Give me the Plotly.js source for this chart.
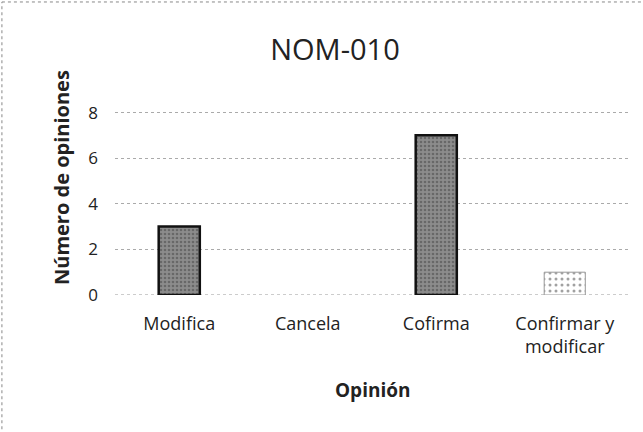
<!DOCTYPE html>
<html><head><meta charset="utf-8">
<script src="https://cdn.plot.ly/plotly-3.0.1.min.js"></script>
<style>html,body{margin:0;padding:0;background:#fff}#c{width:643px;height:432px}</style>
</head><body><div id="c"></div>
<script>
const categories = ["Modifica", "Cancela", "Cofirma", "Confirmar y<br>modificar"];
const values = [3, 0, 7, 1];
const yTicks = [0, 2, 4, 6, 8];
const chartTitle = "NOM-010";
const xTitle = "Opinión";
const yTitle = "Número de opiniones";

const trace = {
  type: "bar",
  x: categories,
  y: values,
  width: 0.32,
  marker: {
    color: ["#8c8c8c", "#8c8c8c", "#8c8c8c", "#ffffff"],
    line: {color: ["#111", "#111", "#111", "#999"], width: [2.5, 0, 2.5, 1]},
    pattern: {
      shape: [".", ".", ".", "."],
      fgcolor: ["#ffffff", "#ffffff", "#ffffff", "#777"],
      size: [4, 4, 4, 6],
      solidity: [0.35, 0.35, 0.35, 0.2],
      fillmode: "overlay"
    }
  },
  hoverinfo: "skip"
};

const layout = {
  width: 643, height: 432,
  margin: {l: 115, r: 14, t: 108, b: 137},
  paper_bgcolor: "#fff", plot_bgcolor: "#fff",
  font: {family: "Open Sans, Liberation Sans, sans-serif", color: "#222"},
  title: {text: chartTitle, xref: "container", yref: "container",
          x: 0.521, xanchor: "center", y: 0.884, yanchor: "middle",
          font: {size: 29, color: "#222", family: "Open Sans, sans-serif"}},
  xaxis: {
    type: "category",
    showgrid: false, showline: false, zeroline: false, ticks: "",
    tickfont: {size: 18, color: "#222"},
    ticklabelstandoff: 16
  },
  yaxis: {
    range: [0, 8.2],
    tickvals: yTicks,
    ticktext: yTicks.map(String),
    showgrid: true, gridcolor: "#aaa", griddash: "dot", gridwidth: 1,
    zeroline: false, showline: false, ticks: "",
    tickfont: {size: 17, color: "#222"},
    ticklabelstandoff: 16
  },
  annotations: [
    {text: "<b>" + yTitle + "</b>", xref: "paper", yref: "paper", x: -0.1031, y: 0.6257,
     xanchor: "center", yanchor: "middle", textangle: -90, showarrow: false,
     font: {size: 20, color: "#222"}},
    {text: "<b>" + xTitle + "</b>", xref: "paper", yref: "paper", x: 0.5, y: -0.508,
     xanchor: "center", yanchor: "middle", showarrow: false,
     font: {size: 19, color: "#222"}}
  ],
  shapes: [
    {type: "line", xref: "paper", yref: "y", x0: 0, x1: 1, y0: 0, y1: 0,
     line: {color: "#999", width: 1, dash: "dot"}, layer: "below"},
    {type: "line", xref: "paper", yref: "paper", x0: -0.22, x1: 1.03, y0: 1.567, y1: 1.567,
     line: {color: "#888", width: 1, dash: "dot"}},
    {type: "line", xref: "paper", yref: "paper", x0: -0.22, x1: -0.22, y0: -0.75, y1: 1.567,
     line: {color: "#888", width: 1, dash: "dot"}}
  ],
  showlegend: false
};

Plotly.newPlot("c", [trace], layout, {staticPlot: true, displayModeBar: false});
</script></body></html>
